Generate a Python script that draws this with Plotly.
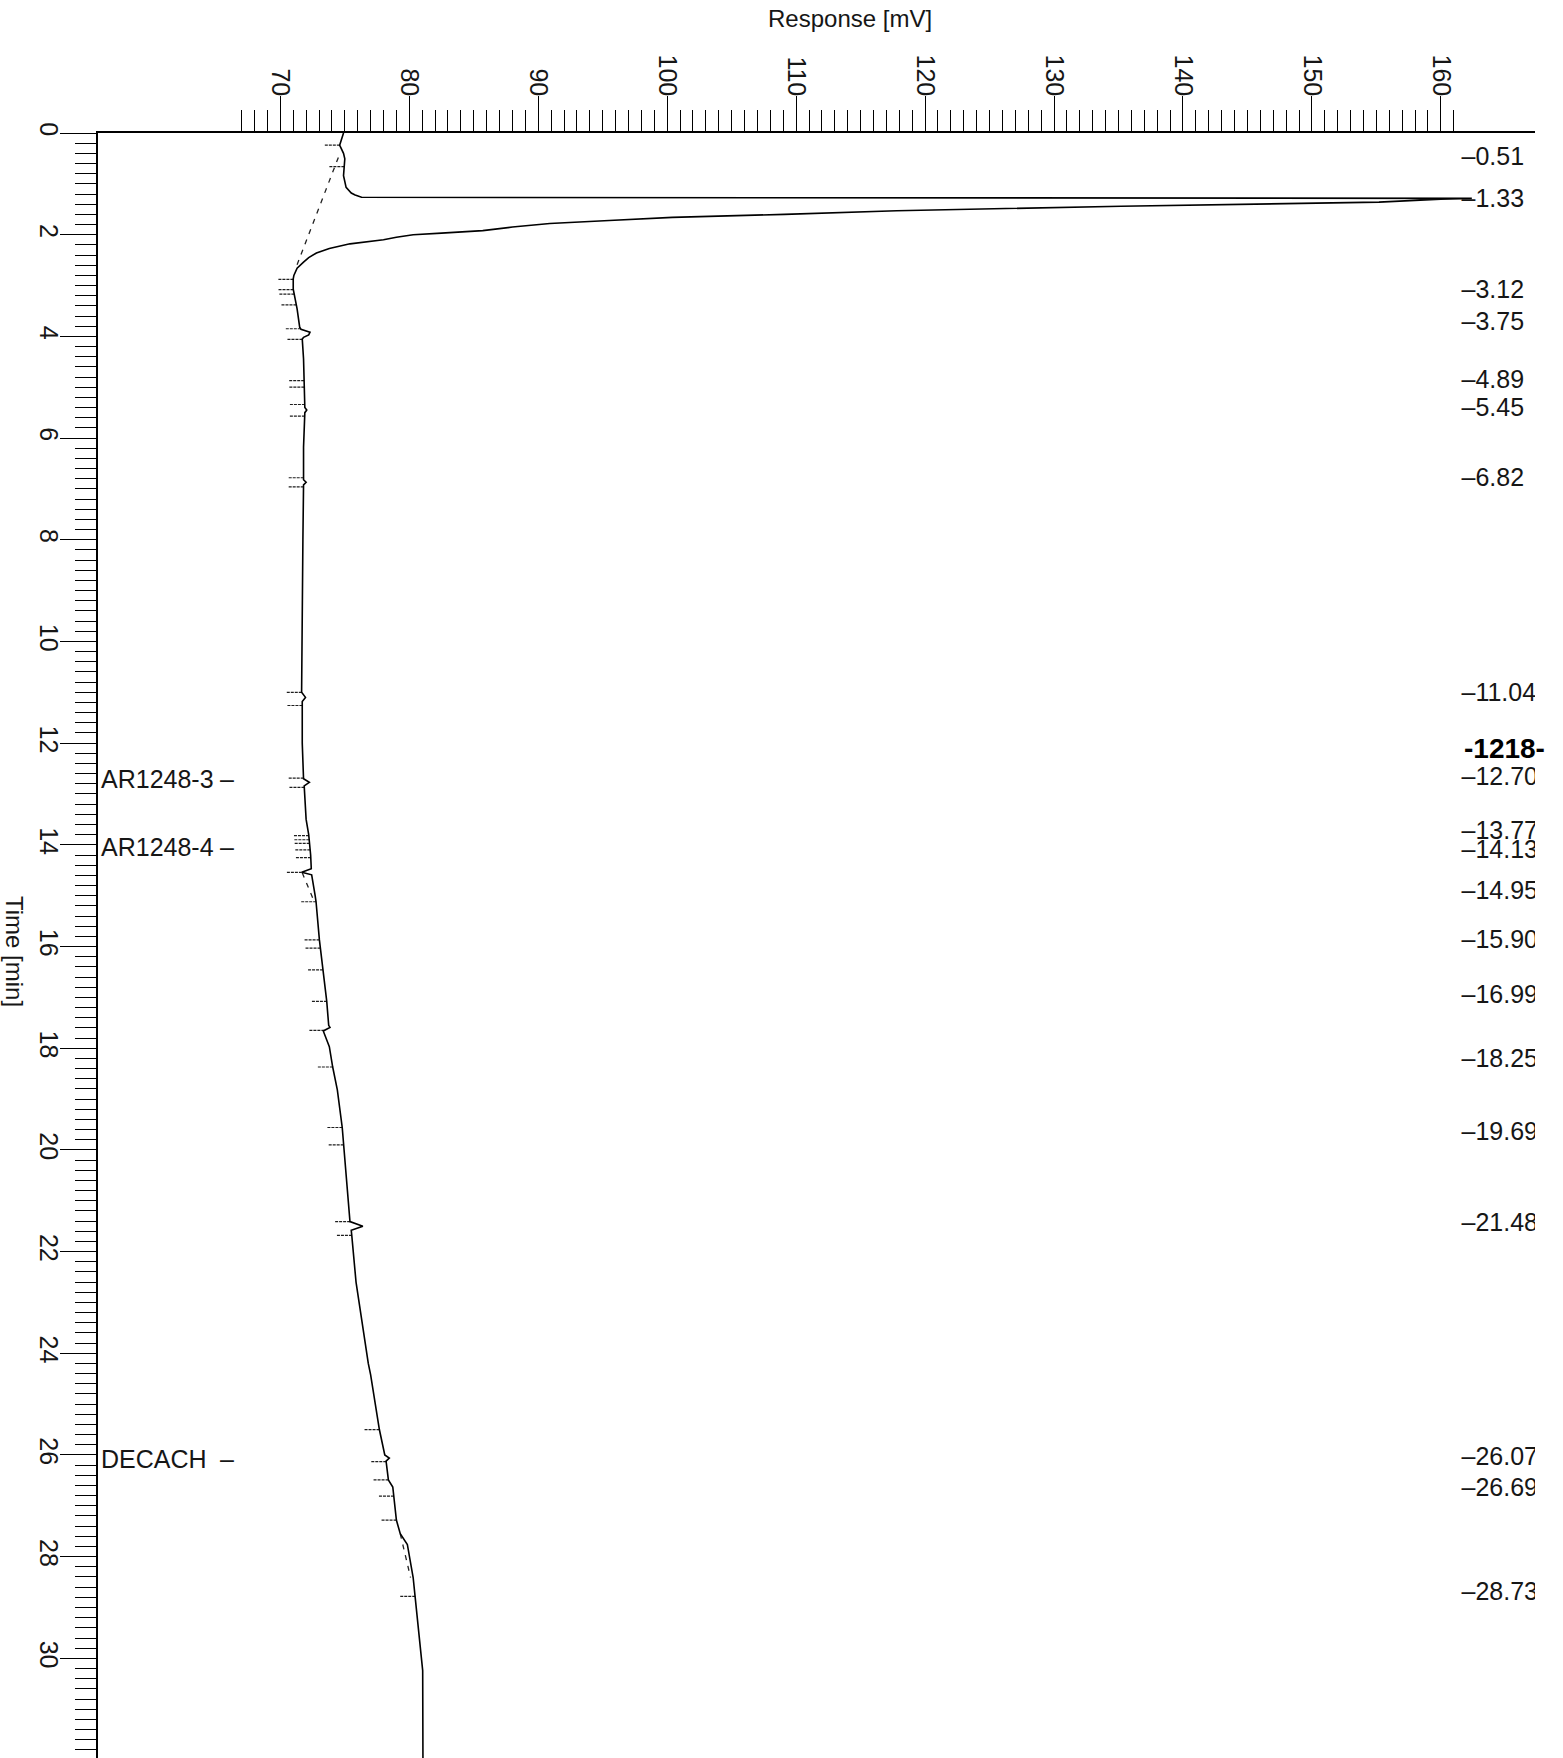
import numpy as np
import plotly.graph_objects as go

# Chromatogram trace: retention time (min) versus detector response (mV)
time_min = [
    0.00, 0.10, 0.24, 0.40, 0.51, 0.84, 1.07, 1.18, 1.22, 1.265,
    1.285, 1.30, 1.36, 1.44, 1.53, 1.60, 1.66, 1.72, 1.78, 1.85,
    1.92, 1.97, 2.00, 2.05, 2.10, 2.18, 2.27, 2.36, 2.45, 2.54,
    2.66, 2.80, 2.87, 3.07, 3.46, 3.82, 3.86, 3.92, 3.97, 4.02,
    4.05, 4.44, 5.00, 5.40, 5.45, 5.50, 6.18, 6.82, 6.87, 6.92,
    8.00, 10.60, 11.00, 11.10, 11.18, 12.00, 12.70, 12.77, 12.84, 13.50,
    13.80, 14.20, 14.47, 14.54, 14.59, 15.00, 15.12, 15.87, 16.46, 17.08,
    17.55, 17.59, 17.66, 17.97, 18.37, 18.82, 19.56, 19.90, 20.66, 21.41,
    21.50, 21.58, 21.68, 22.60, 24.20, 24.42, 25.50, 26.00, 26.06, 26.12,
    26.49, 26.63, 27.28, 27.55, 27.76, 28.41, 28.78, 29.59, 30.24, 31.96,
]
response_mv = [
    74.9, 74.8, 74.6, 74.9, 75.0, 74.9, 75.1, 75.5, 75.8, 76.3,
    162.4, 160.0, 155.2, 135.2, 117.8, 109.1, 100.4, 95.5, 90.9, 88.0,
    85.7, 82.5, 80.3, 79.0, 78.0, 75.4, 73.8, 72.8, 72.2, 71.8,
    71.3, 71.05, 71.0, 71.0, 71.3, 71.5, 71.6, 72.3, 72.2, 71.8,
    71.7, 71.8, 71.85, 71.9, 72.05, 71.9, 71.8, 71.8, 72.0, 71.8,
    71.75, 71.65, 71.65, 71.95, 71.7, 71.7, 71.8, 72.25, 71.85, 72.0,
    72.2, 72.35, 72.4, 71.66, 72.43, 72.7, 72.77, 73.03, 73.3, 73.6,
    73.75, 73.85, 73.33, 73.8, 74.06, 74.42, 74.8, 74.9, 75.15, 75.4,
    76.4, 75.5, 75.54, 75.87, 76.82, 77.0, 77.68, 78.1, 78.45, 78.2,
    78.38, 78.72, 79.0, 79.3, 79.85, 80.3, 80.45, 80.8, 81.04, 81.06,
]

# Integrated peaks: retention times printed at the right-hand edge
peak_times = [0.51, 1.33, 3.12, 3.75, 4.89, 5.45, 6.82, 11.04, 12.70, 13.77,
              14.13, 14.95, 15.90, 16.99, 18.25, 19.69, 21.48, 26.07, 26.69, 28.73]

# Peak start / end markers (min)
marker_times = [0.24, 0.66, 2.88, 3.08, 3.17, 3.38, 3.85, 4.06, 4.87, 5.00,
                5.34, 5.57, 6.78, 6.96, 11.00, 11.26, 12.69, 12.87, 13.82, 13.90,
                13.97, 14.10, 14.25, 14.54, 15.12, 15.87, 16.03, 16.46, 17.08, 17.65,
                18.37, 19.56, 19.90, 21.41, 21.68, 25.50, 26.13, 26.49, 26.81, 27.28,
                28.78]

# Dropped baselines under unresolved peaks
baseline_start_t = [0.48, 14.55, 27.55]
baseline_start_mv = [74.5, 71.7, 79.3]
baseline_end_t = [2.61, 15.10, 28.41]
baseline_end_mv = [71.27, 72.6, 80.1]

# Identified compounds
compound_names = ["AR1248-3", "AR1248-4", "DECACH"]
compound_times = [12.70, 14.05, 26.07]

sample_label = "-1218-"
sample_label_time = 12.11

response_ticks = list(range(70, 161, 5))
response_minor = list(range(67, 162))
time_ticks = list(range(0, 32))
time_minor = [round(0.2 * i, 1) for i in range(0, 160)]

X_RANGE = [55.86, 167.3]
Y_RANGE = [31.96, 0]
LABEL_X = 161.6
FONT = "Liberation Sans, Arial, sans-serif"
INK = "#161616"

fig = go.Figure()

# Peak start/end ticks sit just left of the trace
trace_at = np.interp(marker_times, time_min, response_mv)
mx, my = [], []
for t, v in zip(marker_times, trace_at):
    mx += [v - 1.15, v, None]
    my += [t, t, None]
fig.add_trace(go.Scatter(x=mx, y=my, mode="lines",
                         line=dict(color="#1e1e1e", width=1.2, dash="3px,1px"),
                         hoverinfo="skip", showlegend=False))

# Baselines
bx, by = [], []
for t0, v0, t1, v1 in zip(baseline_start_t, baseline_start_mv, baseline_end_t, baseline_end_mv):
    bx += [v0, v1, None]
    by += [t0, t1, None]
fig.add_trace(go.Scatter(x=bx, y=by, mode="lines",
                         line=dict(color="#222", width=1.3, dash="5px,6px"),
                         hoverinfo="skip", showlegend=False))

# Detector signal
fig.add_trace(go.Scatter(x=response_mv, y=time_min, mode="lines",
                         line=dict(color="black", width=1.6),
                         showlegend=False))

# Retention-time labels, clipped at the plot edge
fig.add_trace(go.Scatter(x=[LABEL_X] * len(peak_times), y=peak_times, mode="text",
                         text=["\u2013" + f"{t:.2f}" for t in peak_times],
                         textposition="middle right", cliponaxis=True,
                         textfont=dict(family=FONT, size=25, color=INK),
                         hoverinfo="skip", showlegend=False))

annotations = []
for name, t in zip(compound_names, compound_times):
    annotations.append(dict(x=(99 - 98) / 1437, xref="paper", y=t, yref="y",
                            text=name, showarrow=False, xanchor="left", yanchor="middle",
                            font=dict(family=FONT, size=25, color=INK)))
    annotations.append(dict(x=(218 - 98) / 1437, xref="paper", y=t, yref="y",
                            text="\u2013", showarrow=False, xanchor="left", yanchor="middle",
                            font=dict(family=FONT, size=25, color=INK)))

annotations.append(dict(x=LABEL_X, xref="x", y=sample_label_time, yref="y",
                        text=sample_label, showarrow=False, xanchor="left", yanchor="middle",
                        font=dict(family=FONT, size=28, color="black", weight="bold")))

annotations.append(dict(x=(850 - 98) / 1437, xref="paper", y=1 + (133 - 19) / 1625, yref="paper",
                        text="Response [mV]", showarrow=False, xanchor="center", yanchor="middle",
                        font=dict(family=FONT, size=24, color=INK)))
annotations.append(dict(x=(15 - 98) / 1437, xref="paper", y=1 - (951 - 133) / 1625, yref="paper",
                        text="Time [min]", showarrow=False, textangle=90,
                        xanchor="center", yanchor="middle",
                        font=dict(family=FONT, size=24, color=INK)))

fig.update_layout(
    width=1563, height=1758,
    margin=dict(l=98, r=28, t=133, b=0, pad=0),
    paper_bgcolor="white", plot_bgcolor="white",
    annotations=annotations,
    xaxis=dict(
        side="top", range=X_RANGE, automargin=False,
        showline=True, linecolor="black", linewidth=2,
        showgrid=False, zeroline=False,
        ticks="outside", ticklen=35, tickwidth=1.3, tickcolor="black",
        tickmode="array", tickvals=response_ticks,
        ticktext=[str(v) if v % 10 == 0 else "" for v in response_ticks],
        tickangle=90, tickfont=dict(family=FONT, size=25, color=INK),
        ticklabelstandoff=-9,
        minor=dict(tickmode="array", tickvals=response_minor, ticks="outside",
                   ticklen=21, tickwidth=1.1, tickcolor="black", showgrid=False),
    ),
    yaxis=dict(
        range=Y_RANGE, automargin=False,
        showline=True, linecolor="black", linewidth=2,
        showgrid=False, zeroline=False,
        ticks="outside", ticklen=36, tickwidth=1.3, tickcolor="black",
        tickmode="array", tickvals=time_ticks,
        ticktext=[str(v) if v % 2 == 0 else "" for v in time_ticks],
        tickangle=90, tickfont=dict(family=FONT, size=25, color=INK),
        ticklabelstandoff=-10,
        minor=dict(tickmode="array", tickvals=time_minor, ticks="outside",
                   ticklen=21, tickwidth=1.1, tickcolor="black", showgrid=False),
    ),
)

fig.write_html("out.html")
